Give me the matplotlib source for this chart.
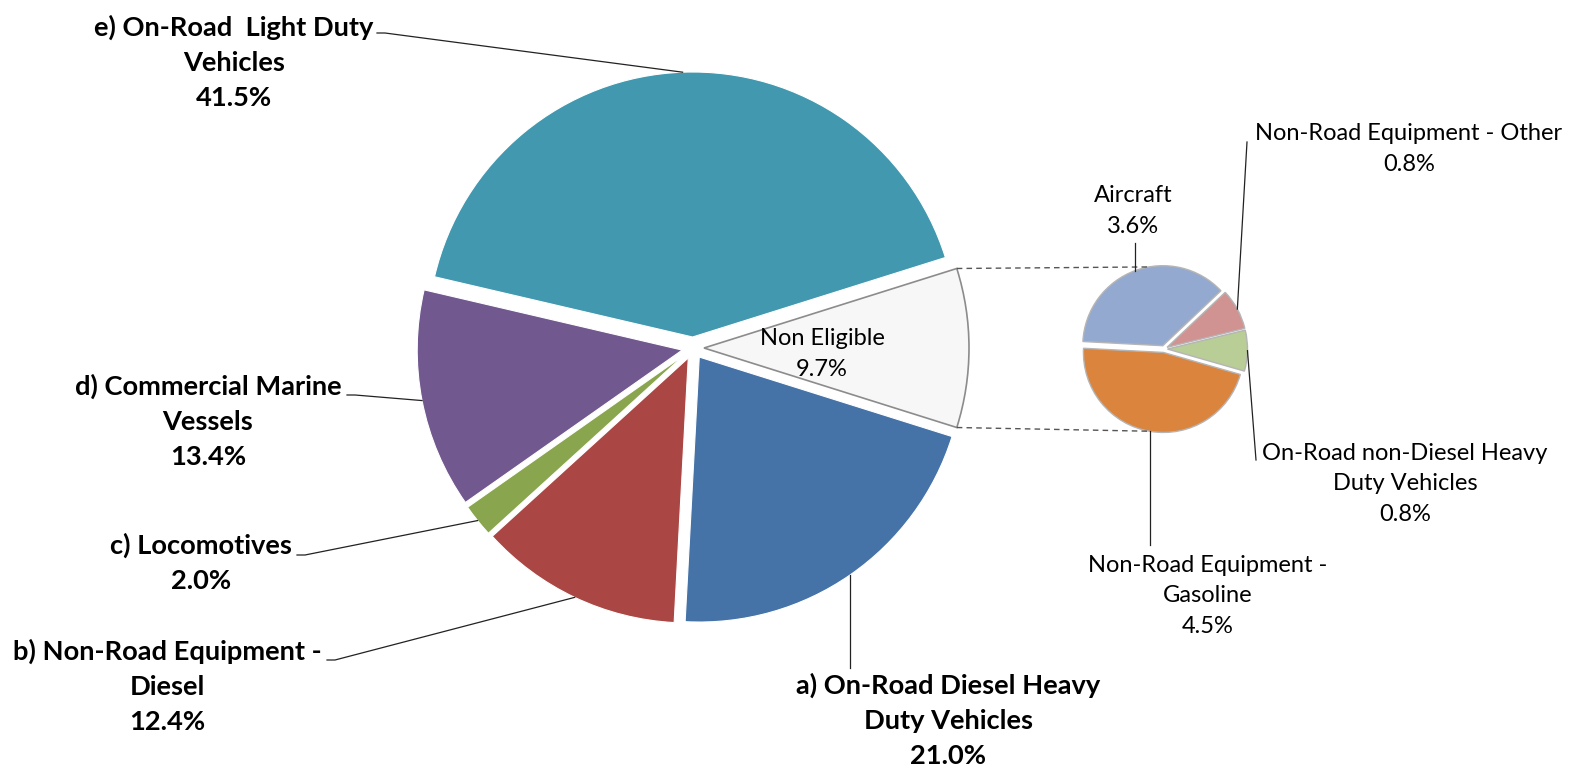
import matplotlib
matplotlib.use("Agg")
import matplotlib.pyplot as plt
import numpy as np

# ---------------- data ----------------
main_labels = ["Non Eligible",
               "e) On-Road  Light Duty\nVehicles",
               "d) Commercial Marine\nVessels",
               "c) Locomotives",
               "b) Non-Road Equipment -\nDiesel",
               "a) On-Road Diesel Heavy\nDuty Vehicles"]
main_values = [9.7, 41.5, 13.4, 2.0, 12.4, 21.0]
main_colors = ["#f7f7f7", "#4198AF", "#71588F", "#89A54E", "#AA4643", "#4572A7"]

sub_labels = ["Aircraft",
              "Non-Road Equipment - Other",
              "On-Road non-Diesel Heavy\nDuty Vehicles",
              "Non-Road Equipment -\nGasoline"]
sub_values = [3.6, 0.8, 0.8, 4.5]
sub_colors = ["#93A9CF", "#D19392", "#B9CD96", "#DB843D"]

# ---------------- layout (pixel coords, y down) ----------------
W, H = 1569, 766
FONT = "Lato"

main_center = (693, 348)
main_R = 265
main_expl = 11
sub_center = (1164, 349)
sub_R = 80
sub_expl = 3.5
sub_start = 177

main_text_pos = [(822, 354), (234, 62), (208, 421), (201, 563), (167, 686), (948, 720)]
main_anchor = [None, (377, 33), (347, 395), (297, 555), (327, 660), ("v", 668)]
sub_text_pos = [(1133, 211), (1409, 149), (1405, 484), (1208, 596)]
sub_anchor = [("v", 243), (1247, 142), (1256, 460), ("v", 545)]


def P(pt):
    return (pt[0], H - pt[1])


fig = plt.figure(figsize=(W / 100, H / 100), dpi=100)
ax = fig.add_axes([0, 0, 1, 1])

start_main = -main_values[0] / sum(main_values) * 180.0
wedges_main, _ = ax.pie(main_values, colors=main_colors, center=P(main_center),
                        radius=main_R, explode=[main_expl] * len(main_values),
                        startangle=start_main, counterclock=True,
                        wedgeprops=dict(edgecolor="white", linewidth=0.8))
wedges_main[0].set_edgecolor("#8c8c8c")
wedges_main[0].set_linewidth(1.2)

wedges_sub, _ = ax.pie(sub_values, colors=sub_colors, center=P(sub_center),
                       radius=sub_R, explode=[sub_expl] * len(sub_values),
                       startangle=sub_start, counterclock=False,
                       wedgeprops=dict(edgecolor="#b5b5b5", linewidth=1.0))


def arc_point(w, ang=None, r=None):
    if ang is None:
        ang = 0.5 * (w.theta1 + w.theta2)
    if r is None:
        r = w.r
    cx, cy = w.center
    a = np.deg2rad(ang)
    return (cx + r * np.cos(a), cy + r * np.sin(a))


def leader(w, anchor, stub):
    ex, ey = arc_point(w)
    if anchor[0] == "v":
        sx, sy = ex, H - anchor[1]
        ax.plot([sx, ex], [sy, ey], color="#222222", lw=0.9, zorder=4)
    else:
        sx, sy = P(anchor)
        ax.plot([sx, sx + stub, ex], [sy, sy, ey], color="#222222", lw=0.9, zorder=4)


for i, (lab, val) in enumerate(zip(main_labels, main_values)):
    bold = i != 0
    txt = f"{lab}\n{val:.1f}%"
    x, y = P(main_text_pos[i])
    ax.text(x, y, txt, ha="center", va="center", multialignment="center",
            fontsize=19.6 if bold else 17, fontweight="bold" if bold else "normal",
            family=FONT, linespacing=1.55, color="black", zorder=5)
    if main_anchor[i] is not None:
        leader(wedges_main[i], main_anchor[i], 8)

for i, (lab, val) in enumerate(zip(sub_labels, sub_values)):
    txt = f"{lab}\n{val:.1f}%"
    x, y = P(sub_text_pos[i])
    ax.text(x, y, txt, ha="center", va="center", multialignment="center",
            fontsize=17, family=FONT, linespacing=1.55, color="black", zorder=5)
    leader(wedges_sub[i], sub_anchor[i], 0)

# connector dashed lines
ne = wedges_main[0]
top_main = arc_point(ne, ne.theta2)
bot_main = arc_point(ne, ne.theta1)
top_sub = arc_point(wedges_sub[0], 100)
bot_sub = arc_point(wedges_sub[-1], 260)
ax.plot([top_main[0], top_sub[0]], [top_main[1], top_sub[1]], ls=(0, (4, 3)),
        color="#555555", lw=1.0, zorder=3)
ax.plot([bot_main[0], bot_sub[0]], [bot_main[1], bot_sub[1]], ls=(0, (4, 3)),
        color="#555555", lw=1.0, zorder=3)

ax.set_xlim(0, W)
ax.set_ylim(0, H)
ax.set_aspect("equal")
ax.axis("off")
fig.savefig("out.png", dpi=100, facecolor="white")
